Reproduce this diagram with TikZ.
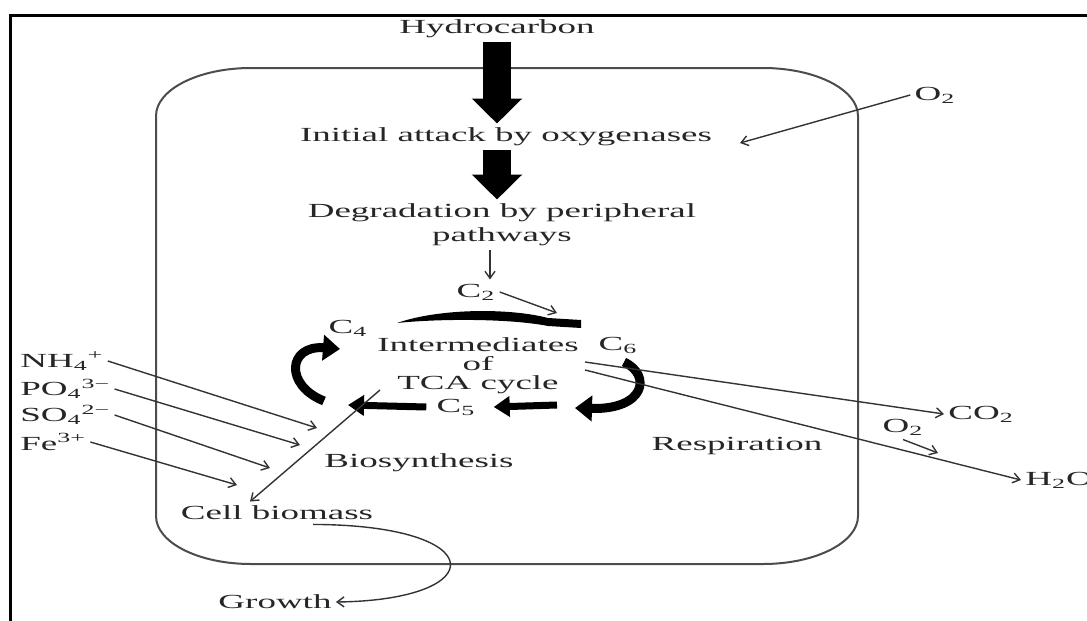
\documentclass[tikz,border=0pt]{standalone}
\usepackage{fontspec}
\setmainfont{Liberation Serif}[FakeStretch=1.85]
\usetikzlibrary{arrows.meta}
\tikzset{
    txt/.style ={
        inner sep=2pt,
        text=black!85,
        font=\fontsize{10}{12}\selectfont
    },
    cellwall/.style ={
        draw=black!70,
        line width=1pt
    },
    bigarrow/.style ={
        line width=14pt,
        -{Triangle[width=24.5pt,length=12.5pt]}
    },
    cyclearrow/.style ={
        line width=3.5pt,
        -{Triangle[width=10pt,length=8pt]}
    },
    cyclebend/.style ={
        line width=4.5pt,
        -{Triangle[width=12.5pt,length=8.5pt]}
    },
    thinarrow/.style ={
        draw=black!80,
        line width=0.7pt,
        -{Straight Barb[length=3.5pt,width=5pt]}
    }
}

\begin{document}
\begin{tikzpicture}[x=0.5pt,y=-0.5pt]
    \useasboundingbox (0,0) rectangle (1087,621);
    \clip (0,0) rectangle (1087,621);
    % frame and cell
    \draw[line width=1.5pt] (1090,15) -- (10,15) -- (10,625);
    \draw[cellwall] (156,116) -- (156,516)
        .. controls (156,542.5) and (198.5,564) .. (251,564) -- (763,564)
        .. controls (815.5,564) and (858,542.5) .. (858,516) -- (858,116)
        .. controls (858,89.5) and (815.5,68) .. (763,68) -- (251,68)
        .. controls (198.5,68) and (156,89.5) .. (156,116) -- cycle;

    \node[txt] (hc) at (497,29) {Hydrocarbon};
    \node[txt] (init) at (506,137) {Initial attack by oxygenases};
    \node[txt,align=center] (degr) at (502,225) {Degradation by peripheral\\pathways};
    \node[txt] (c2) at (476,292) {C\textsubscript{2}};
    \node[txt] (c4) at (348,328) {C\textsubscript{4}};
    \node[txt] (c6) at (618,345) {C\textsubscript{6}};
    \node[txt] (c5) at (456,407) {C\textsubscript{5}};
    \node[txt,align=center,font=\fontsize{10}{9.5}\selectfont] (tca) at (478,366) {Intermediates\\of\\TCA cycle};
    \node[txt,anchor=west] (nh4) at (16,361) {NH\textsubscript{4}\textsuperscript{+}};
    \node[txt,anchor=west] (po4) at (16,389) {PO\textsubscript{4}\textsuperscript{3−}};
    \node[txt,anchor=west] (so4) at (16,415) {SO\textsubscript{4}\textsuperscript{2−}};
    \node[txt,anchor=west] (fe) at (16,442) {Fe\textsuperscript{3+}};
    \node[txt] (bios) at (419,463) {Biosynthesis};
    \node[txt] (resp) at (737,446) {Respiration};
    \node[txt] (cell) at (277,513) {Cell biomass};
    \node[txt] (growth) at (275,602) {Growth};
    \node[txt] (o2a) at (935,95) {O\textsubscript{2}};
    \node[txt,anchor=west] (co2) at (944,414) {CO\textsubscript{2}};
    \node[txt] (o2b) at (903,427) {O\textsubscript{2}};
    \node[txt,anchor=west] (h2o) at (1021,480) {H\textsubscript{2}O};

    \coordinate (c2hit) at (557,313);
    \coordinate (o2hit) at (740,143);
    \coordinate (nh4hit) at (317,428);
    \coordinate (po4hit) at (300,445);
    \coordinate (so4hit) at (270,468);
    \coordinate (fehit) at (237,485);
    \coordinate (biostart) at (380,390);
    \coordinate (co2start) at (585,362);
    \coordinate (h2ostart) at (585,370);
    \coordinate (o2bhit) at (938,453);
    \coordinate (c5right) at (557,405);
    \coordinate (c5left) at (348,405);

    \draw[bigarrow] (hc.south) -- (hc.south |- init.north);
    \draw[bigarrow] (init.south -| hc.south) -- (degr.north -| hc.south);
    \draw[thinarrow] ([xshift=-6pt]degr.south) -- ([xshift=7pt]c2.north);
    \draw[thinarrow] (c2.east) -- (c2hit);
    \draw[thinarrow] (o2a.west) -- (o2hit);

    % TCA cycle
    \fill[black] (397,323) .. controls (440,308) and (510,308) .. (548,318) -- (581,320)
        -- (581,328) -- (548,326) .. controls (510,318.5) and (440,318.5) .. (397,323) -- cycle;
    \draw[cyclebend] (324,401) .. controls (284,385) and (288,345) .. (340,349);
    \draw[cyclebend] (624,362) .. controls (652,375) and (645,410) .. (575,408);
    \draw[cyclearrow] (c5right) -- ([xshift=7pt]c5.east);
    \draw[cyclearrow] ([xshift=-3pt]c5.west) -- (c5left);

    \draw[thinarrow] (nh4.east) -- (nh4hit);
    \draw[thinarrow] (po4.east) -- (po4hit);
    \draw[thinarrow] (so4.east) -- (so4hit);
    \draw[thinarrow] (fe.east) -- (fehit);
    \draw[thinarrow] (biostart) -- ([xshift=-13.5pt]cell.north);
    \draw[thinarrow] (co2start) -- (co2.west);
    \draw[thinarrow] (h2ostart) -- (h2o.west);
    \draw[thinarrow] (o2b.south) -- (o2bhit);
    \draw[thinarrow] ([xshift=18pt]cell.south) .. controls (492,525) and (492,600) .. (growth.east);
\end{tikzpicture}
\end{document}
